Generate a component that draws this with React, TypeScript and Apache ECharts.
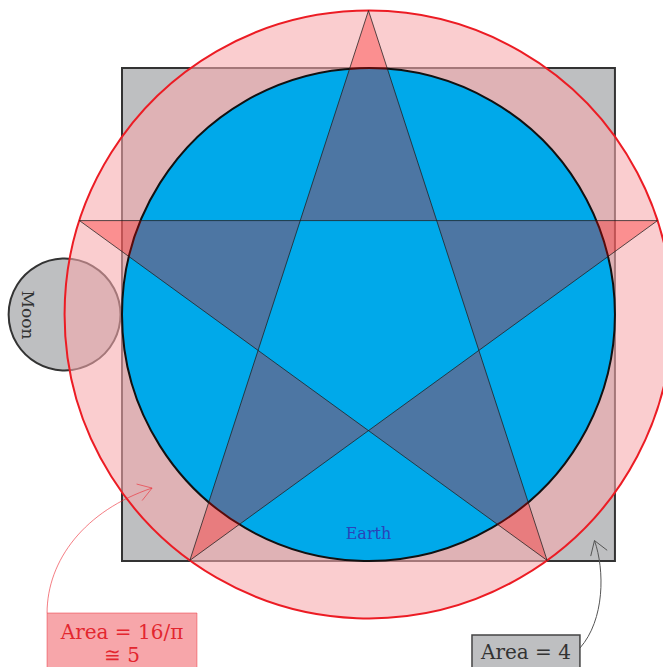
import React, { useEffect, useRef } from "react";
import * as echarts from "echarts";

// Geometry in Earth radii (Earth centred at the origin)
const SQUARE = [-1, -1, 1, 1]; // x0, y0, x1, y1 -> area 4
const EARTH = [0, 0, 1]; // cx, cy, r
const ORBIT = [0, 0, 1.233]; // circle through the Moon's centre, area 16/π
const MOON = [-1.233, 0, 0.227]; // cx, cy, r
const STAR_TIP_ANGLES = [90, 162, 234, 306, 18]; // degrees, on ORBIT

// Annotations
const EARTH_LABEL = ["Earth", 0, -0.89];
const MOON_LABEL = ["Moon", -1.383, -0.002];
const CIRCLE_BOX = [-1.304, -1.211, -0.696, -1.6]; // x0, yTop, x1, yBottom
const CIRCLE_TEXT = [["Area = 16/π", -1.0, -1.286], ["≅ 5", -1.0, -1.383]];
const CIRCLE_ARROW = [[-1.304, -1.211], [-1.304, -0.996], [-1.15, -0.795], [-0.878, -0.704]];
const SQUARE_BOX = [0.42, -1.3, 0.858, -1.6];
const SQUARE_TEXT = [["Area = 4", 0.639, -1.37]];
const SQUARE_ARROW = [[0.858, -1.353], [0.959, -1.239], [0.959, -1.036], [0.917, -0.917]];

const X_RANGE = [-1.495, 1.195];
const Y_RANGE = [-1.43, 1.276];

const FONT = "DejaVu Serif";

function arrowHead(api: any, pts: number[][], color: string) {
  const p2 = api.coord(pts[2]);
  const p3 = api.coord(pts[3]);
  const ang = Math.atan2(p3[1] - p2[1], p3[0] - p2[0]);
  const L = 16;
  const h = (33 * Math.PI) / 180;
  return {
    type: "polyline",
    shape: {
      points: [
        [p3[0] - L * Math.cos(ang - h), p3[1] - L * Math.sin(ang - h)],
        p3,
        [p3[0] - L * Math.cos(ang + h), p3[1] - L * Math.sin(ang + h)],
      ],
    },
    style: { stroke: color, lineWidth: 1, fill: null },
  };
}

function curve(api: any, pts: number[][], color: string) {
  const c = pts.map((p) => api.coord(p));
  return {
    type: "bezierCurve",
    shape: {
      x1: c[0][0], y1: c[0][1],
      cpx1: c[1][0], cpy1: c[1][1],
      cpx2: c[2][0], cpy2: c[2][1],
      x2: c[3][0], y2: c[3][1],
    },
    style: { stroke: color, lineWidth: 1, fill: null },
  };
}

function boxRect(api: any, b: number[], fill: string, stroke: string, lw: number) {
  const a = api.coord([b[0], b[1]]);
  const c = api.coord([b[2], b[3]]);
  return {
    type: "rect",
    shape: { x: a[0], y: a[1], width: c[0] - a[0], height: c[1] - a[1] },
    style: { fill, stroke, lineWidth: lw },
  };
}

export default function App() {
  const ref = useRef<HTMLDivElement>(null);
  useEffect(() => {
    if (!ref.current) return;
    const chart = echarts.init(ref.current, undefined, { renderer: "svg" });

    const circleItem = (spec: number[], fill: string, stroke: string, lw: number) =>
      (params: any, api: any) => {
        const c = api.coord([spec[0], spec[1]]);
        const r = api.size([spec[2], 0])[0];
        return {
          type: "circle",
          shape: { cx: c[0], cy: c[1], r },
          style: { fill, stroke, lineWidth: lw },
        };
      };

    const R = ORBIT[2];
    const rad = (d: number) => (d * Math.PI) / 180;
    const tips = STAR_TIP_ANGLES.map((d) => [ORBIT[0] + R * Math.cos(rad(d)), ORBIT[1] + R * Math.sin(rad(d))]);
    const rIn = (R * Math.cos(rad(72))) / Math.cos(rad(36));
    const inner = (d: number) => [ORBIT[0] + rIn * Math.cos(rad(d)), ORBIT[1] + rIn * Math.sin(rad(d))];

    const option: any = {
      animation: false,
      grid: { left: 0, right: 0, top: 0, bottom: 0 },
      xAxis: { type: "value", min: X_RANGE[0], max: X_RANGE[1], show: false },
      yAxis: { type: "value", min: Y_RANGE[0], max: Y_RANGE[1], show: false },
      series: [
        {
          type: "custom",
          data: [SQUARE],
          silent: true,
          renderItem: (params: any, api: any) => {
            const a = api.coord([SQUARE[0], SQUARE[3]]);
            const b = api.coord([SQUARE[2], SQUARE[1]]);
            return {
              type: "rect",
              shape: { x: a[0], y: a[1], width: b[0] - a[0], height: b[1] - a[1] },
              style: { fill: "#bebfc1", stroke: "#333333", lineWidth: 2 },
            };
          },
        },
        {
          type: "custom",
          data: [MOON],
          silent: true,
          renderItem: circleItem(MOON, "#bebfc1", "#333333", 2),
        },
        {
          type: "custom",
          data: [ORBIT],
          silent: true,
          renderItem: circleItem(ORBIT, "rgba(246,168,173,0.58)", "#ec1c24", 2),
        },
        {
          type: "custom",
          data: [EARTH],
          silent: true,
          renderItem: circleItem(EARTH, "#00a9ea", "#111111", 2),
        },
        {
          type: "custom",
          data: [STAR_TIP_ANGLES],
          silent: true,
          renderItem: (params: any, api: any) => {
            const children: any[] = [];
            STAR_TIP_ANGLES.forEach((d, i) => {
              const pts = [tips[i], inner(d - 36), inner(d + 36)].map((p) => api.coord(p));
              children.push({
                type: "polygon",
                shape: { points: pts },
                style: { fill: "rgba(255,0,0,0.3)", stroke: null },
              });
            });
            const order = [0, 2, 4, 1, 3, 0].map((i) => api.coord(tips[i]));
            children.push({
              type: "polyline",
              shape: { points: order },
              style: { stroke: "rgba(30,30,30,0.75)", lineWidth: 1, fill: null },
            });
            return { type: "group", children };
          },
        },
        {
          type: "custom",
          data: [[0]],
          silent: true,
          renderItem: (params: any, api: any) => {
            const children: any[] = [];
            const e = api.coord([EARTH_LABEL[1], EARTH_LABEL[2]]);
            children.push({
              type: "text",
              x: e[0],
              y: e[1],
              style: {
                text: EARTH_LABEL[0],
                fill: "#2a44b8",
                font: `16px "${FONT}"`,
                align: "center",
                verticalAlign: "middle",
              },
            });
            const m = api.coord([MOON_LABEL[1], MOON_LABEL[2]]);
            children.push({
              type: "text",
              x: m[0],
              y: m[1],
              rotation: -Math.PI / 2,
              style: {
                text: MOON_LABEL[0],
                fill: "#333333",
                font: `17px "${FONT}"`,
                align: "center",
                verticalAlign: "middle",
              },
            });
            // Circle area annotation
            children.push(curve(api, CIRCLE_ARROW, "rgba(236,40,50,0.6)"));
            children.push(arrowHead(api, CIRCLE_ARROW, "rgba(236,40,50,0.6)"));
            children.push(boxRect(api, CIRCLE_BOX, "#f7a6aa", "rgba(236,60,70,0.55)", 1));
            CIRCLE_TEXT.forEach((t) => {
              const p = api.coord([t[1], t[2]]);
              children.push({
                type: "text",
                x: p[0],
                y: p[1],
                style: {
                  text: t[0],
                  fill: "#e3262f",
                  font: `20px "${FONT}"`,
                  align: "center",
                  verticalAlign: "middle",
                },
              });
            });
            // Square area annotation
            children.push(curve(api, SQUARE_ARROW, "#555555"));
            children.push(arrowHead(api, SQUARE_ARROW, "#555555"));
            children.push(boxRect(api, SQUARE_BOX, "#bebfc1", "#444444", 1.5));
            SQUARE_TEXT.forEach((t) => {
              const p = api.coord([t[1], t[2]]);
              children.push({
                type: "text",
                x: p[0],
                y: p[1],
                style: {
                  text: t[0],
                  fill: "#333333",
                  font: `20px "${FONT}"`,
                  align: "center",
                  verticalAlign: "middle",
                },
              });
            });
            return { type: "group", children };
          },
        },
      ],
    };
    chart.setOption(option);
    return () => chart.dispose();
  }, []);

  return (
    <div
      ref={ref}
      style={{ position: "fixed", left: 0, top: 0, width: 663, height: 667, overflow: "hidden", background: "#ffffff" }}
    />
  );
}
